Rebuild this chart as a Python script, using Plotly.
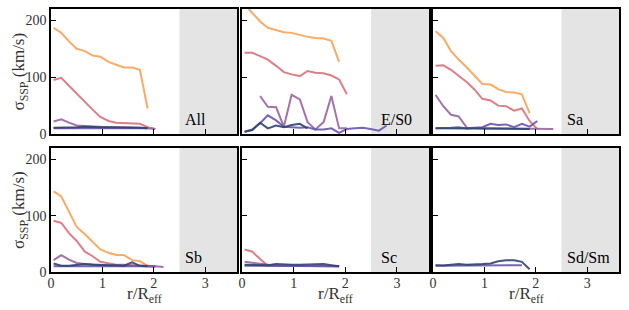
import plotly.graph_objects as go

# radial bins (r / R_eff)
R = [0.05, 0.20, 0.35, 0.50, 0.66, 0.81, 0.96, 1.12, 1.27, 1.42, 1.58, 1.73,
     1.88, 2.03, 2.19, 2.34, 2.49, 2.65, 2.80]

panel_labels = ["All", "E/S0", "Sa", "Sb", "Sc", "Sd/Sm"]

# sigma_SSP (km/s) per panel and per series (orange, pink, mauve, violet, navy)
all_orange = [187, 178, 163, 150, 146, 138, 136, 127, 122, 117, 117, 113, 45]
all_pink = [95, 99, 85, 71, 57, 43, 30, 23, 20, 19.5, 19, 18, 12, 9]
all_mauve = [22, 26, 20, 15, 14, 13, 13, 12, 12, 12, 11, 11, 10, 9]
all_violet = [10, 10, 10, 11, 11, 11, 11, 11, 11, 11, 11, 11, 10]
all_navy = [11, 11, 11, 12, 13, 12, 12, 12, 12, 12, 12, 11, 10]

es0_orange = [228, 212, 198, 187, 183, 179, 178, 174, 171, 169, 168, 164, 127]
es0_pink = [143, 143, 137, 131, 120, 109, 105, 102, 111, 108, 107, 103, 96, 70]
es0_mauve = [None, None, 67, 48, 47, 13, 69, 61, 21, 8, 21, 67, 10, 10]
es0_violet = [4, 8, 19, 33, 24, 13, 12, 11, 12, 8, 8, 10, 2, 9, 10, 11, 9, 6, 15]
es0_navy = [4, 7, 20, 10, 15, 12, 16, 18, 10]

sa_orange = [181, 169, 146, 131, 117, 102, 88, 87, 79, 74, 73, 70, 37]
sa_pink = [120, 121, 113, 102, 91, 78, 62, 59, 50, 49, 41, 45, 23, 9]
sa_mauve = [69, 49, 34, 31, 11, 10, 10, 10, 10, 9, 9, 9, 9, 9, 9, 9]
sa_violet = [10, 10, 11, 12, 10, 11, 12, 18, 16, 17, 12, 18, 13, 23]
sa_navy = [10, 10, 10, 10, 10, 10, 10, 10, 10, 10, 10, 9, 9]

sb_orange = [143, 134, 107, 80, 67, 53, 40, 34, 30, 30, 21, 19, 11]
sb_pink = [91, 87, 69, 55, 36, 28, 18, 15, 13, 13, 12, 12, 11, 9]
sb_mauve = [21, 30, 22, 16, 14, 13, 12, 12, 12, 12, 11, 11, 11, 10, 9]
sb_violet = [10, 10, 10, 10, 11, 11, 11, 11, 11, 11, 11, 10, 10, 10]
sb_navy = [15, 11, 11, 12, 14, 13, 12, 12, 12, 11, 17, 11, 10]

sc_orange = []
sc_pink = [40, 36, 23, 11, 11, 11, 11, 11, 11, 11, 11, 11, 10]
sc_mauve = [18, 16, 14, 12, 11, 11, 11, 11, 11, 11, 11, 11, 10]
sc_violet = [11, 11, 11, 11, 11, 11, 11, 11, 11, 11, 11, 11, 10]
sc_navy = [13, 13, 12, 12, 14, 13, 13, 13, 13, 13, 14, 12, 10]

sd_orange = []
sd_pink = []
sd_mauve = []
sd_violet = [11, 11, 11, 11, 11, 11, 12, 12, 12, 12, 12, 12]
sd_navy = [12, 11.5, 13, 14, 13, 13, 14, 15, 19, 21, 21, 18, 5]

panels = [
    [all_orange, all_pink, all_mauve, all_violet, all_navy],
    [es0_orange, es0_pink, es0_mauve, es0_violet, es0_navy],
    [sa_orange, sa_pink, sa_mauve, sa_violet, sa_navy],
    [sb_orange, sb_pink, sb_mauve, sb_violet, sb_navy],
    [sc_orange, sc_pink, sc_mauve, sc_violet, sc_navy],
    [sd_orange, sd_pink, sd_mauve, sd_violet, sd_navy],
]
colors = ["#f9a35a", "#d8737c", "#9a64a0", "#6a55b0", "#2f4470"]

XMAX = 3.62
YMAX = 220
SHADE_FROM = 2.5

FONT = "Liberation Serif"
TXT = "#333333"

W, H = 629, 310
ml, mr, mt, mb = 51, 10, 7, 38
pw = W - ml - mr
ph = H - mt - mb

col_px = [(0, 186), (191, 378), (382, 568)]
row_px = [(0, 126), (140, 265)]  # from top of plot area

fig = go.Figure()
layout = dict(
    width=W, height=H,
    margin=dict(l=ml, r=mr, t=mt, b=mb),
    paper_bgcolor="white", plot_bgcolor="white",
    showlegend=False,
    font=dict(family=FONT, size=14, color=TXT),
)
shapes = []
annotations = []

for k in range(6):
    r, c = divmod(k, 3)
    idx = "" if k == 0 else str(k + 1)
    xd = [col_px[c][0] / pw, col_px[c][1] / pw]
    yd = [1 - row_px[r][1] / ph, 1 - row_px[r][0] / ph]
    layout["xaxis" + idx] = dict(
        domain=xd, range=[0, XMAX], anchor="y" + idx,
        tickvals=[0, 1, 2, 3], ticks="inside", ticklen=5, tickwidth=1,
        tickcolor="black", showticklabels=(r == 1), ticklabelstandoff=-3,
        showline=True, linecolor="black", linewidth=1.5, mirror=True,
        showgrid=False, zeroline=False,
        tickfont=dict(family=FONT, size=14, color=TXT),
    )
    layout["yaxis" + idx] = dict(
        domain=yd, range=[0, YMAX], anchor="x" + idx,
        tickvals=[0, 100, 200], ticks="inside", ticklen=5, tickwidth=1,
        tickcolor="black", showticklabels=(c == 0),
        showline=True, linecolor="black", linewidth=1.5, mirror=True,
        showgrid=False, zeroline=False,
        tickfont=dict(family=FONT, size=14, color=TXT),
    )
    shapes.append(dict(
        type="rect", xref="x" + idx, yref="y" + idx + " domain",
        x0=SHADE_FROM, x1=XMAX, y0=0, y1=1,
        fillcolor="#e4e4e4", line=dict(width=0), layer="below",
    ))
    for vals, col in zip(panels[k], colors):
        if not vals:
            continue
        fig.add_trace(go.Scatter(
            x=R[:len(vals)], y=vals, mode="lines",
            line=dict(color=col, width=2), opacity=0.9,
            xaxis="x" + idx, yaxis="y" + idx, connectgaps=False,
            hoverinfo="skip",
        ))
    lx = 2.65 if panel_labels[k] in ("E/S0", "Sc") else 2.56
    annotations.append(dict(
        text=panel_labels[k], x=lx, y=26, xref="x" + idx, yref="y" + idx,
        xanchor="left", yanchor="middle", showarrow=False,
        font=dict(family=FONT, size=16, color="black"),
    ))
    if c == 0:
        annotations.append(dict(
            text="σ<sub>SSP</sub> (km/s)", textangle=-90,
            x=-31 / pw, y=(yd[0] + yd[1]) / 2, xref="paper", yref="paper",
            xanchor="center", yanchor="middle", showarrow=False,
            font=dict(family=FONT, size=17, color=TXT),
        ))
    if r == 1:
        annotations.append(dict(
            text="r/R<sub>eff</sub>",
            x=(xd[0] + xd[1]) / 2, y=-23 / ph, xref="paper", yref="paper",
            xanchor="center", yanchor="middle", showarrow=False,
            font=dict(family=FONT, size=17, color=TXT),
        ))

layout["shapes"] = shapes
layout["annotations"] = annotations
fig.update_layout(**layout)
fig.write_html(
    "out.html",
    config={"displayModeBar": False},
    post_script="document.body.style.margin='0';document.body.style.overflow='hidden';",
)
